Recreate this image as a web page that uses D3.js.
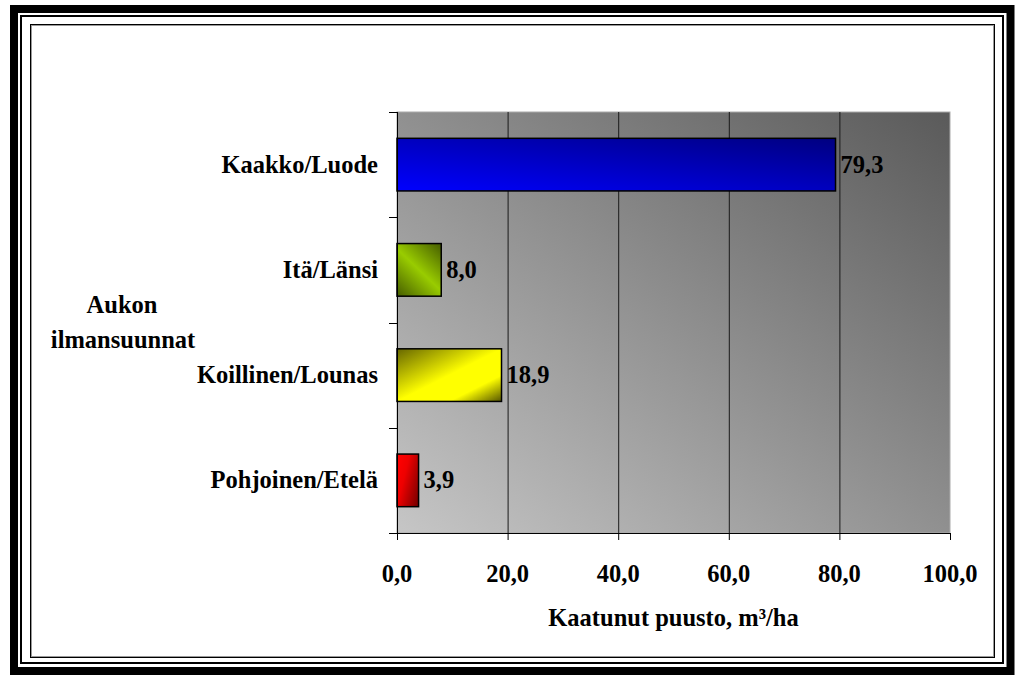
<!DOCTYPE html>
<html>
<head>
<meta charset="utf-8">
<script src="https://cdn.jsdelivr.net/npm/d3@7"></script>
<style>
  html, body { margin: 0; padding: 0; background: #fff; }
  svg { display: block; }
  text { font-family: "Liberation Serif", "Times New Roman", serif; font-weight: bold; fill: #000; }
</style>
</head>
<body>
<svg id="chart" width="1015" height="675"></svg>
<script>
// Fallen timber by gap orientation
const categories = ["Kaakko/Luode", "Itä/Länsi", "Koillinen/Lounas", "Pohjoinen/Etelä"];
const values = [79.3, 8.0, 18.9, 3.9];
const xTicks = [0, 20, 40, 60, 80, 100];
const xTitle = "Kaatunut puusto, m³/ha";
const yTitle = ["Aukon", "ilmansuunnat"];

const FONT = 24.5;    // type size
const STRETCH = 1;    // horizontal widening of the serif labels

const svg = d3.select("#chart");
const defs = svg.append("defs");

// Frame: thick outer band, thin line, inner border
svg.append("rect").attr("x", 14).attr("y", 9).attr("width", 996.5).attr("height", 662)
  .attr("fill", "none").attr("stroke", "#000").attr("stroke-width", 8);
svg.append("rect").attr("x", 21).attr("y", 16).attr("width", 982).attr("height", 647)
  .attr("fill", "none").attr("stroke", "#000").attr("stroke-width", 2);
svg.append("rect").attr("x", 30.5).attr("y", 24.5).attr("width", 964).attr("height", 633)
  .attr("fill", "none").attr("stroke", "#000").attr("stroke-width", 1);
svg.append("rect").attr("x", 31.5).attr("y", 25.5).attr("width", 962).attr("height", 631)
  .attr("fill", "none").attr("stroke", "#999").attr("stroke-width", 1);

const plot = { left: 397, right: 950, top: 112, bottom: 533 };

const x = d3.scaleLinear().domain([0, 100]).range([plot.left, plot.right]);
const y = d3.scaleBand().domain(categories).range([plot.top, plot.bottom])
  .paddingInner(0.5).paddingOuter(0.25);

// Gradients
function linGrad(id, x1, y1, x2, y2, stops) {
  const g = defs.append("linearGradient").attr("id", id)
    .attr("x1", x1).attr("y1", y1).attr("x2", x2).attr("y2", y2);
  stops.forEach(s => g.append("stop").attr("offset", s[0]).attr("stop-color", s[1]));
}
linGrad("bg", 0, 1, 1, 0, [[0, "#c6c6c6"], [1, "#5a5a5a"]]);
const barFills = [
  ["g0", 0, 1, 1, 0, [[0, "#0000ff"], [1, "#000080"]]],
  ["g1", 0.9, 0, 0.1, 1, [[0, "#4d6600"], [0.5, "#99cc00"], [1, "#4d6600"]]],
  ["g2", 0, 0, 1, 1, [[0, "#666600"], [0.5, "#ffff00"], [0.75, "#ffff00"], [1, "#555500"]]],
  ["g3", 0, 0.2, 1, 0.8, [[0, "#ff0000"], [0.35, "#ee0000"], [1, "#800000"]]]
];
barFills.forEach(f => linGrad(...f));

// Serif label anchored at (px, py)
function label(parent, px, py, str, anchor) {
  parent.append("g")
    .attr("transform", `translate(${px},${py}) scale(${STRETCH},1)`)
    .append("text")
    .attr("text-anchor", anchor || "start")
    .attr("font-size", FONT)
    .text(str);
}

// Plot area
svg.append("rect").attr("x", plot.left).attr("y", plot.top)
  .attr("width", plot.right - plot.left).attr("height", plot.bottom - plot.top)
  .attr("fill", "url(#bg)").attr("stroke", "#aaa").attr("stroke-width", 1);

// Vertical gridlines
svg.append("g").selectAll("line").data(xTicks.filter(d => d > 0 && d < 100)).join("line")
  .attr("x1", d => x(d) + 0.5).attr("x2", d => x(d) + 0.5)
  .attr("y1", plot.top).attr("y2", plot.bottom)
  .attr("stroke", "#1a1a1a").attr("stroke-width", 1);

// Bars
svg.append("g").selectAll("rect").data(values).join("rect")
  .attr("x", x(0))
  .attr("y", (d, i) => y(categories[i]))
  .attr("width", d => x(d) - x(0))
  .attr("height", y.bandwidth())
  .attr("fill", (d, i) => `url(#g${i})`)
  .attr("stroke", "#000").attr("stroke-width", 1.5);

// Value labels
const valueLabels = svg.append("g");
values.forEach((d, i) => {
  label(valueLabels, x(d) + 5, y(categories[i]) + y.bandwidth() / 2 + 8,
    d.toFixed(1).replace(".", ","));
});

// X axis
const xAxis = svg.append("g").attr("transform", `translate(0,${plot.bottom})`)
  .call(d3.axisBottom(x).tickValues(xTicks).tickSize(7).tickSizeOuter(0).tickFormat(""));
xAxis.select(".domain").attr("stroke", "#000").attr("d", `M${plot.left - 8},0.5H${plot.right}`);
xAxis.selectAll(".tick line").attr("stroke", "#000");
const xLabels = svg.append("g");
xTicks.forEach(t => label(xLabels, x(t), 582, t.toFixed(1).replace(".", ","), "middle"));

// Y axis: line with ticks at category boundaries
const step = y.step();
const bounds = d3.range(categories.length + 1).map(i => plot.top + i * step);
const yAxis = svg.append("g");
yAxis.append("line").attr("x1", plot.left + 0.5).attr("x2", plot.left + 0.5)
  .attr("y1", plot.top).attr("y2", plot.bottom + 7).attr("stroke", "#000");
yAxis.selectAll("line.tk").data(bounds).join("line").attr("class", "tk")
  .attr("x1", plot.left - 8).attr("x2", plot.left)
  .attr("y1", d => Math.round(d) + 0.5).attr("y2", d => Math.round(d) + 0.5)
  .attr("stroke", "#000");

// Category labels
const catLabels = svg.append("g");
categories.forEach(c => label(catLabels, 378, y(c) + y.bandwidth() / 2 + 8, c, "end"));

// Axis titles
label(svg, (plot.left + plot.right) / 2, 626, xTitle, "middle");
label(svg, 122, 313, yTitle[0], "middle");
label(svg, 123, 348, yTitle[1], "middle");
</script>
</body>
</html>
